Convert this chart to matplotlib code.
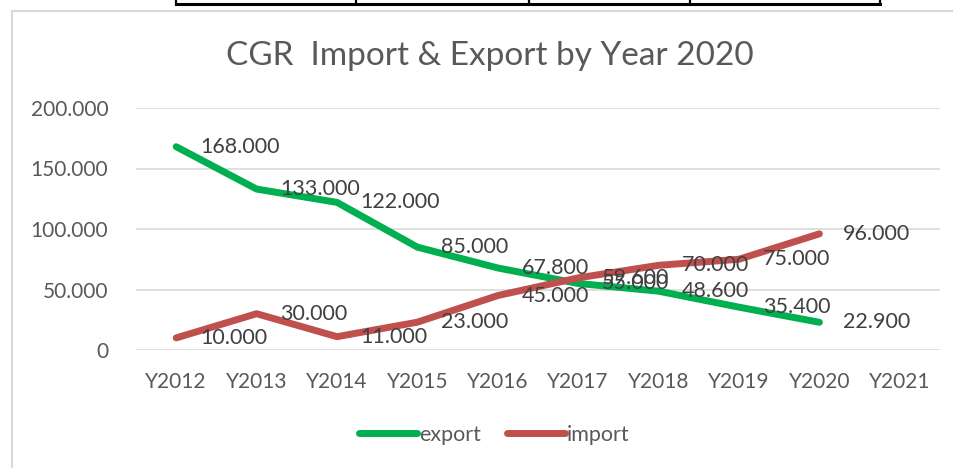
import matplotlib.pyplot as plt
from matplotlib.lines import Line2D
from matplotlib.patches import Rectangle
from matplotlib.ticker import FuncFormatter

plt.rcParams['font.family'] = ['Lato', 'DejaVu Sans']

# data
years = ['Y2012', 'Y2013', 'Y2014', 'Y2015', 'Y2016', 'Y2017', 'Y2018', 'Y2019', 'Y2020', 'Y2021']
export = [168.0, 133.0, 122.0, 85.0, 67.8, 55.0, 48.6, 35.4, 22.9]
imports = [10.0, 30.0, 11.0, 23.0, 45.0, 59.6, 70.0, 75.0, 96.0]

green = '#00B050'
red = '#C0504D'
text_col = '#595959'
grid_col = '#D9D9D9'

W, H = 954, 468
fig = plt.figure(figsize=(W / 100, H / 100), dpi=100)

# chart frame and the table edge above it (pixel coords -> figure fraction)
def fx(px):
    return px / W

def fy(py):
    return 1 - py / H

fig.add_artist(Rectangle((fx(12), fy(475)), fx(960) - fx(12), fy(11) - fy(475),
                         transform=fig.transFigure, fill=False, ec=grid_col, lw=1.5))
fig.add_artist(Line2D([fx(176), fx(880)], [fy(4), fy(4)], transform=fig.transFigure,
                      color='black', lw=2.2))
for x in [176, 356, 529, 690, 880]:
    fig.add_artist(Line2D([fx(x), fx(x)], [fy(0), fy(4)], transform=fig.transFigure,
                          color='black', lw=1.6))

ax = fig.add_axes([fx(136), fy(350), fx(940) - fx(136), fy(108) - fy(350)])
xs = list(range(len(export)))
ax.plot(xs, export, color=green, lw=5, solid_capstyle='round', solid_joinstyle='round', label='export')
ax.plot(xs, imports, color=red, lw=5, solid_capstyle='round', solid_joinstyle='round', label='import')

for series in (export, imports):
    for i, v in enumerate(series):
        ax.annotate(f'{v:.3f}', (i, v), xytext=(17, 0), textcoords='offset points',
                    ha='left', va='center', fontsize=15.5, color='#404040')

ax.set_xlim(-0.5, len(years) - 0.5)
ax.set_ylim(0, 200)
ax.set_yticks([0, 50, 100, 150, 200])
ax.yaxis.set_major_formatter(FuncFormatter(lambda v, p: '0' if v == 0 else f'{v:.3f}'))
ax.set_xticks(range(len(years)))
ax.set_xticklabels(years)
ax.grid(axis='y', color=grid_col, lw=1.2)
ax.set_axisbelow(True)
for s in ax.spines.values():
    s.set_visible(False)
ax.tick_params(axis='both', length=0, labelsize=15, colors=text_col)
ax.tick_params(axis='y', pad=20)
ax.tick_params(axis='x', pad=16)

fig.text(fx(490), fy(56), 'CGR  Import & Export by Year 2020', ha='center', va='center',
         fontsize=24, color=text_col)

leg = fig.legend(loc='center', bbox_to_anchor=(fx(494), fy(435)), ncol=2, frameon=False,
                 fontsize=15.5, handlelength=2.7, handletextpad=0.1, columnspacing=1.2)
for t in leg.get_texts():
    t.set_color(text_col)

fig.savefig('out.png', dpi=100)
